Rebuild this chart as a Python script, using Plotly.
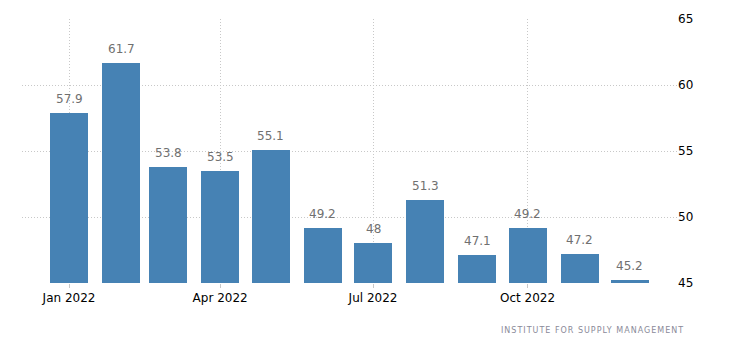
import plotly.graph_objects as go

# ISM manufacturing PMI, monthly, 2022
months = ["2022-01-01", "2022-02-01", "2022-03-01", "2022-04-01", "2022-05-01", "2022-06-01",
          "2022-07-01", "2022-08-01", "2022-09-01", "2022-10-01", "2022-11-01", "2022-12-01"]
values = [57.9, 61.7, 53.8, 53.5, 55.1, 49.2, 48, 51.3, 47.1, 49.2, 47.2, 45.2]
labels = ["57.9", "61.7", "53.8", "53.5", "55.1", "49.2", "48", "51.3", "47.1", "49.2", "47.2", "45.2"]

x_ticks = ["2022-01-01", "2022-04-01", "2022-07-01", "2022-10-01"]
y_ticks = [45, 50, 55, 60, 65]

FONT = "DejaVu Sans"
BAR_COLOR = "#4682b4"
GRID = "#c8c8c8"
DAY_MS = 86400000

fig = go.Figure()
fig.add_trace(go.Bar(
    x=months, y=values, base=0,
    width=[22.6 * DAY_MS] * len(values),
    marker=dict(color=BAR_COLOR, line=dict(width=0)),
    hoverinfo="skip",
))

# value labels above each bar
for m, v, t in zip(months, values, labels):
    fig.add_annotation(x=m, y=v, text=t, showarrow=False, yanchor="bottom",
                       yshift=5, font=dict(family=FONT, size=12, color="#707070"))

fig.add_annotation(
    xref="paper", yref="paper", x=1.013, y=-0.155, xanchor="right", yanchor="top",
    text='<span style="letter-spacing:1px">INSTITUTE FOR SUPPLY MANAGEMENT</span>',
    showarrow=False, font=dict(family=FONT, size=8, color="#8a8a99"))

fig.update_layout(
    width=730, height=349,
    margin=dict(l=22, r=53, t=19, b=66),
    paper_bgcolor="white", plot_bgcolor="white",
    showlegend=False, bargap=0,
    font=dict(family=FONT, size=12, color="#000"),
    xaxis=dict(
        type="date", range=["2021-12-04", "2022-12-29"],
        tickvals=x_ticks, tickformat="%b %Y",
        showgrid=True, gridcolor=GRID, griddash="1px,2px", gridwidth=1,
        ticks="outside", ticklen=4, tickcolor=GRID,
        showline=False, zeroline=False,
        tickfont=dict(family=FONT, size=12, color="#000"),
    ),
    yaxis=dict(
        side="right", range=[45, 65], tickvals=y_ticks,
        showgrid=True, gridcolor=GRID, griddash="1px,2px", gridwidth=1,
        zeroline=False, showline=False, ticks="",
        tickfont=dict(family=FONT, size=12, color="#000"),
    ),
)

fig.write_html("out.html")
